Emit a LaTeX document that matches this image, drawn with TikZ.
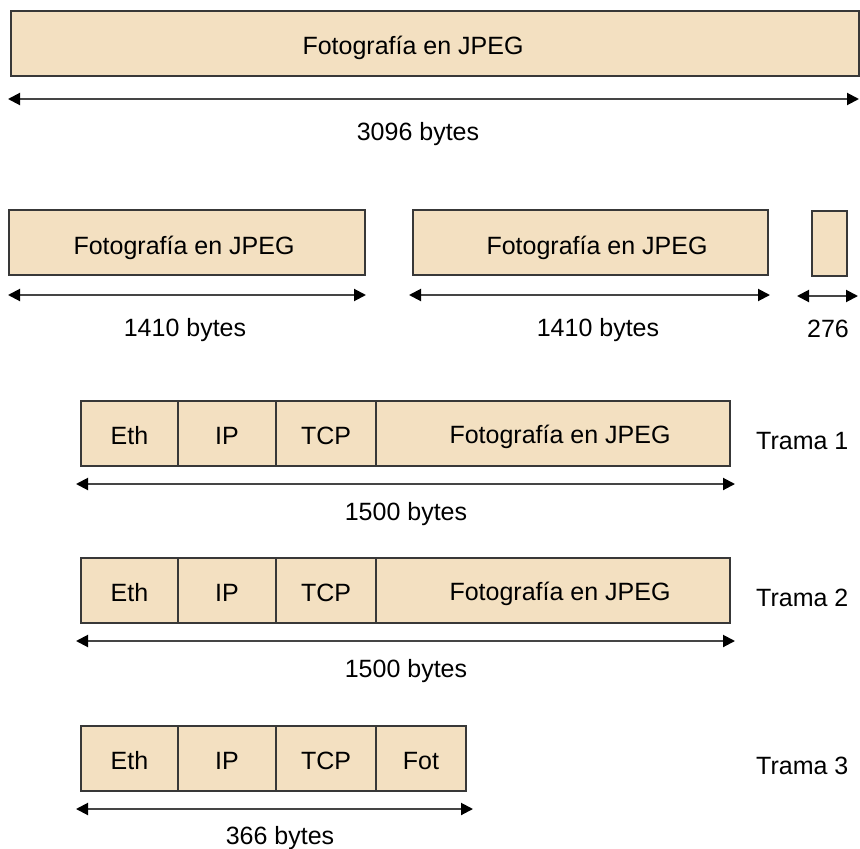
\documentclass[tikz,border=0pt]{standalone}
\usepackage{fontspec}
\setmainfont{Liberation Sans}
\usetikzlibrary{arrows.meta}
\definecolor{fillc}{HTML}{F3E0C1}
\definecolor{edgec}{HTML}{383838}
\definecolor{linec}{HTML}{454545}
\tikzset{
  fld/.style={draw=edgec, line width=2pt, fill=fillc, inner sep=0pt, minimum height=65pt,
    font=\fontsize{25}{30}\selectfont, text height=22pt, text depth=0pt},
  txt/.style={inner sep=0pt, font=\fontsize{25}{30}\selectfont, text=black, text height=22pt, text depth=0pt},
  dim/.style={draw=linec, line width=2pt, {Triangle[length=12pt,width=12pt,color=black]}-{Triangle[length=12pt,width=12pt,color=black]}}
}
\begin{document}
\begin{tikzpicture}[x=1pt,y=-1pt]
\useasboundingbox (0,0) rectangle (860,849);

% Row 1
\node[fld, minimum width=848pt] (b0) at (435,43.5) {};
\node[txt] (t0) at (413,43) {Fotografía en JPEG};
\coordinate (a0l) at (8,99); \coordinate (a0r) at (859,99);
\draw[dim] (a0l) -- (a0r);
\node[txt] (l0) at (418,129) {3096 bytes};

% Row 2
\node[fld, minimum width=356pt] (b1) at (187,242.5) {};
\node[txt] (t1) at (184,243) {Fotografía en JPEG};
\coordinate (a1l) at (8,295); \coordinate (a1r) at (366,295);
\draw[dim] (a1l) -- (a1r);
\node[txt] (l1) at (185,325) {1410 bytes};

\node[fld, minimum width=355pt] (b2) at (590.5,242.5) {};
\node[txt] (t2) at (597,243) {Fotografía en JPEG};
\coordinate (a2l) at (409,295); \coordinate (a2r) at (770,295);
\draw[dim] (a2l) -- (a2r);
\node[txt] (l2) at (598,325) {1410 bytes};

\node[fld, minimum width=35pt] (b3) at (829.5,243) {};
\coordinate (a3l) at (797,296); \coordinate (a3r) at (858,296);
\draw[dim] (a3l) -- (a3r);
\node[txt] (l3) at (828,326) {276};

% Trama 1
\node[fld, minimum width=97pt] (e1) at (129.5,433.5) {Eth};
\node[fld, minimum width=98pt] (i1) at (227,433.5) {IP};
\node[fld, minimum width=100pt] (c1) at (326,433.5) {TCP};
\node[fld, minimum width=354pt] (f1) at (553,433.5) {};
\node[txt] (ft1) at (560,432) {Fotografía en JPEG};
\coordinate (d1l) at (76,484); \coordinate (d1r) at (735,484);
\draw[dim] (d1l) -- (d1r);
\node[txt] (m1) at (406,509) {1500 bytes};
\node[txt, anchor=west] (tr1) at (756,438) {Trama 1};

% Trama 2
\node[fld, minimum width=97pt] (e2) at (129.5,590.5) {Eth};
\node[fld, minimum width=98pt] (i2) at (227,590.5) {IP};
\node[fld, minimum width=100pt] (c2) at (326,590.5) {TCP};
\node[fld, minimum width=354pt] (f2) at (553,590.5) {};
\node[txt] (ft2) at (560,589) {Fotografía en JPEG};
\coordinate (d2l) at (76,641); \coordinate (d2r) at (735,641);
\draw[dim] (d2l) -- (d2r);
\node[txt] (m2) at (406,666) {1500 bytes};
\node[txt, anchor=west] (tr2) at (756,595) {Trama 2};

% Trama 3
\node[fld, minimum width=97pt] (e3) at (129.5,758.5) {Eth};
\node[fld, minimum width=98pt] (i3) at (227,758.5) {IP};
\node[fld, minimum width=100pt] (c3) at (326,758.5) {TCP};
\node[fld, minimum width=90pt] (f3) at (421,758.5) {Fot};
\coordinate (d3l) at (76,809); \coordinate (d3r) at (473,809);
\draw[dim] (d3l) -- (d3r);
\node[txt] (m3) at (280,833) {366 bytes};
\node[txt, anchor=west] (tr3) at (756,763) {Trama 3};
\end{tikzpicture}
\end{document}
